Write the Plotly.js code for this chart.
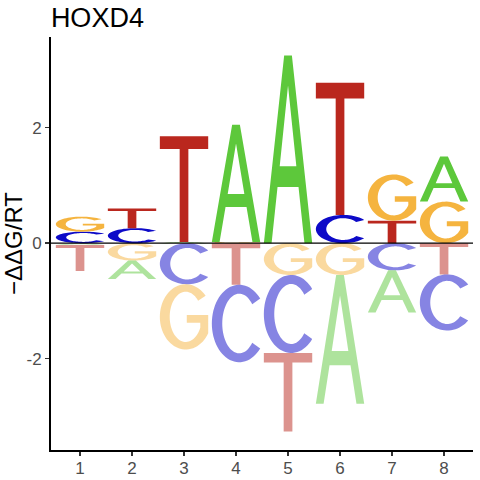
<!DOCTYPE html>
<html><head><meta charset="utf-8">
<script src="https://cdn.plot.ly/plotly-3.0.1.min.js"></script>
<style>html,body{margin:0;padding:0;background:#fff}#chart{width:480px;height:480px}</style>
</head><body><div id="chart"></div>
<script>
// ---- data ----
const positions = [1, 2, 3, 4, 5, 6, 7, 8];
const xTickLabels = ["1", "2", "3", "4", "5", "6", "7", "8"];
const yTickVals = [-2, 0, 2];
const yTickLabels = ["-2", "0", "2"];
// positive stacks (from baseline upward)
const posLetters = [["C","G"],["C","T"],["A","T"],["G","A"],["A"],["C","T"],["T","G"],["G","A"]];
const posHeights = [[0.20,0.26],[0.26,0.34],[0.02,1.83],[0.02,2.03],[3.25],[0.49,2.29],[0.39,0.80],[0.72,0.78]];
// negative stacks (from baseline downward)
const negLetters = [["A","T"],["G","A"],["C","G"],["T","C"],["G","C","T"],["G","A"],["C","A"],["T","C"]];
const negHeights = [[0.03,0.45],[0.30,0.32],[0.71,1.13],[0.72,1.34],[0.55,1.35,1.36],[0.55,2.23],[0.47,0.73],[0.54,0.97]];
const letterColors = {A: "#5DC83B", C: "#0D0AC8", G: "#F5B43F", T: "#BA271E"};

// ---- glyph outlines (unit box) ----
function arc(cx, cy, rx, ry, a0, a1, n) {
  const pts = [];
  for (let i = 0; i <= n; i++) {
    const a = (a0 + (a1 - a0) * i / n) * Math.PI / 180;
    pts.push([cx + rx * Math.cos(a), cy + ry * Math.sin(a)]);
  }
  return pts;
}
const SW = 0.19, SH = 0.115;
function glyphRaw(L) {
  if (L === "T") return [[[0,1],[1,1],[1,0.88],[0.59,0.88],[0.59,0],[0.41,0],[0.41,0.88],[0,0.88]]];
  if (L === "A") return [
    [[0,0],[0.42,1],[0.58,1],[1,0],[0.84,0],[0.717,0.30],[0.283,0.30],[0.16,0]],
    [[0.328,0.41],[0.672,0.41],[0.5,0.84]]
  ];
  if (L === "C") {
    const o = arc(0.5,0.5,0.5,0.5,40,320,60);
    const i = arc(0.5,0.5,0.5-SW,0.5-SH,320,40,60);
    return [o.concat(i)];
  }
  if (L === "G") {
    const o = arc(0.5,0.5,0.5,0.5,40,330,60);
    const s = [[0.933,0.53],[0.52,0.53],[0.52,0.41],[0.78,0.41]];
    const i = arc(0.5,0.5,0.5-SW,0.5-SH,335,40,60);
    return [o.concat(s, i)];
  }
}
function glyph(L) {
  const polys = glyphRaw(L);
  let xmin=Infinity,xmax=-Infinity,ymin=Infinity,ymax=-Infinity;
  polys.forEach(p => p.forEach(([x,y]) => {xmin=Math.min(xmin,x);xmax=Math.max(xmax,x);ymin=Math.min(ymin,y);ymax=Math.max(ymax,y);}));
  return polys.map(p => p.map(([x,y]) => [(x-xmin)/(xmax-xmin),(y-ymin)/(ymax-ymin)]));
}
const GLYPHS = {A: glyph("A"), C: glyph("C"), G: glyph("G"), T: glyph("T")};
const W = 0.93;

function letterShape(L, xc, yb, yt, faded) {
  const path = GLYPHS[L].map(p =>
    "M " + p.map(([x,y]) => (xc - W/2 + x*W).toFixed(4) + "," + (yb + y*(yt-yb)).toFixed(4)).join(" L ") + " Z"
  ).join(" ");
  return {type: "path", xref: "x", yref: "y", path: path, fillcolor: letterColors[L],
          opacity: faded ? 0.5 : 1, line: {width: 0}, layer: "above"};
}

const shapes = [];
positions.forEach((p, i) => {
  let y = 0;
  posLetters[i].forEach((L, k) => { const h = posHeights[i][k]; shapes.push(letterShape(L, p, y, y + h, false)); y += h; });
  y = 0;
  negLetters[i].forEach((L, k) => { const h = negHeights[i][k]; shapes.push(letterShape(L, p, y - h, y, true)); y -= h; });
});
shapes.push({type: "line", xref: "paper", x0: 0, x1: 1, yref: "y", y0: 0, y1: 0, line: {color: "black", width: 1.3}, layer: "above"});

const FONT = "Liberation Sans, Arial, sans-serif";
const axisCommon = {
  showline: true, linecolor: "black", linewidth: 2, mirror: false,
  ticks: "outside", ticklen: 4, tickwidth: 1.5, tickcolor: "#333333",
  showgrid: false, zeroline: false, fixedrange: true,
  tickfont: {family: FONT, size: 17, color: "#4D4D4D"}
};
const layout = {
  width: 480, height: 480,
  margin: {l: 51, r: 7, t: 37, b: 30, pad: 0},
  paper_bgcolor: "white", plot_bgcolor: "white",
  font: {family: FONT},
  showlegend: false,
  title: {text: "HOXD4", font: {family: FONT, size: 27, color: "black"}, x: 0.106, xanchor: "left", xref: "container", y: 0.963, yanchor: "middle", yref: "container"},
  xaxis: Object.assign({}, axisCommon, {range: [0.442, 8.557], tickmode: "array", tickvals: positions, ticktext: xTickLabels, ticklabelstandoff: -2}),
  yaxis: Object.assign({}, axisCommon, {range: [-3.58, 3.57], tickmode: "array", tickvals: yTickVals, ticktext: yTickLabels,
    title: {text: "\u2212\u0394\u0394G/RT", font: {family: FONT, size: 24, color: "black"}, standoff: 3}}),
  shapes: shapes
};
const traces = [{x: positions, y: positions.map(() => 0), type: "scatter", mode: "markers", marker: {opacity: 0}, hoverinfo: "skip", showlegend: false}];
Plotly.newPlot("chart", traces, layout, {displayModeBar: false, staticPlot: true});
</script></body></html>
